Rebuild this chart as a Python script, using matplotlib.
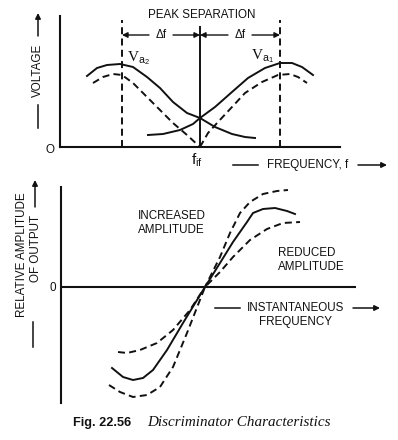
import matplotlib
matplotlib.use("Agg")
import matplotlib.pyplot as plt
from matplotlib import font_manager

# ---------------- data ----------------
# Top panel: frequency (arbitrary units) vs voltage (arbitrary units)
va2_freq = [1.35, 1.85, 2.35, 3.0, 3.65, 4.35, 5.0, 5.65, 6.35, 7.0, 7.75, 8.6, 9.25, 9.75]
va2_volt = [0.71, 0.79, 0.82, 0.83, 0.80, 0.70, 0.59, 0.45, 0.34, 0.29, 0.20, 0.13, 0.10, 0.09]
va1_freq = [4.4, 5.15, 6.0, 6.65, 7.0, 7.75, 8.6, 9.4, 10.25, 11.0, 11.6, 12.1, 12.65]
va1_volt = [0.12, 0.13, 0.17, 0.23, 0.29, 0.40, 0.55, 0.69, 0.79, 0.84, 0.84, 0.80, 0.72]
diff_left_freq = [1.65, 2.15, 2.65, 3.1, 3.65, 4.35, 5.0, 5.65, 6.35, 7.0]
diff_left_volt = [0.64, 0.70, 0.73, 0.72, 0.64, 0.50, 0.37, 0.24, 0.12, 0.0]
diff_right_freq = [7.0, 7.4, 7.9, 8.6, 9.25, 10.1, 10.9, 11.5, 11.9, 12.35]
diff_right_volt = [0.0, 0.14, 0.25, 0.40, 0.54, 0.65, 0.72, 0.73, 0.70, 0.64]
f_a2, f_if, f_a1 = 3.1, 7.0, 11.0

# Bottom panel: instantaneous frequency offset vs relative output
normal_x = [-4.65, -4.1, -3.6, -3.1, -2.6, -1.9, -1.1, 0.0, 0.75, 1.4, 2.1, 2.4, 2.9, 3.5, 4.1, 4.5]
normal_y = [-0.81, -0.90, -0.93, -0.91, -0.83, -0.63, -0.36, 0.0, 0.24, 0.45, 0.65, 0.74, 0.78, 0.79, 0.76, 0.73]
upper_x = [-4.35, -3.9, -3.25, -2.4, -1.6, -0.75, 0.0, 0.75, 1.25, 1.75, 2.25, 2.9, 3.6, 4.15]
upper_y = [-0.65, -0.66, -0.63, -0.56, -0.43, -0.23, 0.0, 0.30, 0.54, 0.74, 0.85, 0.93, 0.96, 0.97]
lower_x = [-4.8, -4.25, -3.6, -2.9, -2.25, -1.6, -0.9, 0.0, 0.75, 1.4, 2.25, 3.1, 3.9, 4.75]
lower_y = [-0.98, -1.05, -1.10, -1.08, -1.00, -0.80, -0.46, 0.0, 0.15, 0.30, 0.47, 0.58, 0.64, 0.65]

# ---------------- styling ----------------
names = {f.name for f in font_manager.fontManager.ttflist}
SANS = "Liberation Sans Narrow" if "Liberation Sans Narrow" in names else "Liberation Sans"
FS = 9.8 if SANS == "Liberation Sans Narrow" else 8.4
SERIF = ["Liberation Serif", "DejaVu Serif"]
plt.rcParams["font.family"] = [SANS, "DejaVu Sans"]
plt.rcParams["mathtext.fontset"] = "custom"
plt.rcParams["mathtext.rm"] = "Liberation Sans"
plt.rcParams["mathtext.it"] = "Liberation Serif"

W, H = 398, 440
fig = plt.figure(figsize=(W / 100, H / 100), dpi=100)
fig.patch.set_facecolor("white")
LW = 1.4
DASH = (0, (3.6, 2.2))
K = "#111111"

# ---------------- top axes ----------------
ax1 = fig.add_axes([60 / W, 1 - 147 / H, 280 / W, (147 - 16) / H])
ax1.set_xlim(0, 14)
ax1.set_ylim(0, 1.31)
for s in ("top", "right"):
    ax1.spines[s].set_visible(False)
for s in ("left", "bottom"):
    ax1.spines[s].set_linewidth(1.5)
    ax1.spines[s].set_color(K)
ax1.set_xticks([])
ax1.set_yticks([])
ax1.patch.set_alpha(0)

ax1.plot(va2_freq, va2_volt, color=K, lw=LW, solid_joinstyle="round")
ax1.plot(va1_freq, va1_volt, color=K, lw=LW, solid_joinstyle="round")
ax1.plot(diff_left_freq, diff_left_volt, color=K, lw=LW, ls=DASH)
ax1.plot(diff_right_freq, diff_right_volt, color=K, lw=LW, ls=DASH)
ax1.plot([f_a2, f_a2], [0, 1.27], color=K, lw=LW, ls=DASH)
ax1.plot([f_a1, f_a1], [0, 1.27], color=K, lw=LW, ls=DASH)
ax1.plot([f_if, f_if], [0, 1.2], color=K, lw=LW)

ya = 1.12
for a, b in ((f_a2, f_if), (f_if, f_a1)):
    mid = (a + b) / 2
    ax1.annotate("", xy=(a, ya), xytext=(mid - 0.6, ya),
                 arrowprops=dict(arrowstyle="-|>", color=K, lw=1.0, mutation_scale=8,
                                 shrinkA=0, shrinkB=0))
    ax1.annotate("", xy=(b, ya), xytext=(mid + 0.6, ya),
                 arrowprops=dict(arrowstyle="-|>", color=K, lw=1.0, mutation_scale=8,
                                 shrinkA=0, shrinkB=0))
    ax1.text(mid, ya, "Δf", ha="center", va="center", fontsize=FS, color=K)

# ---------------- bottom axes ----------------
ax2 = fig.add_axes([61 / W, 1 - 403 / H, 295 / W, (403 - 187) / H])
ax2.set_xlim(-7.2, 7.55)
ax2.set_ylim(-1.16, 1.0)
for s in ("top", "right", "bottom"):
    ax2.spines[s].set_visible(False)
ax2.spines["left"].set_linewidth(1.5)
ax2.spines["left"].set_color(K)
ax2.set_xticks([])
ax2.set_yticks([])
ax2.patch.set_alpha(0)
ax2.axhline(0, color=K, lw=1.5)

ax2.plot(normal_x, normal_y, color=K, lw=LW, solid_joinstyle="round")
ax2.plot(upper_x, upper_y, color=K, lw=LW, ls=DASH)
ax2.plot(lower_x, lower_y, color=K, lw=LW, ls=DASH)

# ---------------- overlay for labels ----------------
ov = fig.add_axes([0, 0, 1, 1])
ov.set_xlim(0, W)
ov.set_ylim(H, 0)
ov.axis("off")
ov.patch.set_alpha(0)


def arrow(x0, y0, x1, y1):
    ov.annotate("", xy=(x1, y1), xytext=(x0, y0),
                arrowprops=dict(arrowstyle="-|>", color=K, lw=1.1, mutation_scale=8,
                                shrinkA=0, shrinkB=0))


def seg(x0, y0, x1, y1):
    ov.plot([x0, x1], [y0, y1], color=K, lw=1.1)


ov.text(127, 58, r"$\mathit{V}_{\mathrm{a}_{\mathrm{2}}}$", ha="left", va="center",
        fontsize=11, color=K)
ov.text(251, 56, r"$\mathit{V}_{\mathrm{a}_{\mathrm{1}}}$", ha="left", va="center",
        fontsize=11, color=K)

ov.text(202, 15, "PEAK SEPARATION", ha="center", va="center", fontsize=FS, color=K)
ov.text(50, 150, "O", ha="center", va="center", fontsize=FS, color=K)
ov.text(197, 160, r"$\mathrm{f}_{\mathrm{if}}$", ha="center", va="center",
        fontsize=11, color=K)
seg(233, 165, 258, 165)
ov.text(267, 165, "FREQUENCY, f", ha="left", va="center", fontsize=FS, color=K)
arrow(358, 165, 387, 165)

ov.text(38, 70, "VOLTAGE", rotation=90, ha="center", va="center", fontsize=FS, color=K)
arrow(38, 36, 38, 13)
seg(38, 105, 38, 128)

ov.text(53, 288, "0", ha="center", va="center", fontsize=FS, color=K)
ov.text(22, 255, "RELATIVE AMPLITUDE", rotation=90, ha="center", va="center", fontsize=FS, color=K)
ov.text(36, 248, "OF OUTPUT", rotation=90, ha="center", va="center", fontsize=FS, color=K)
arrow(35, 207, 35, 180)
seg(33, 322, 33, 347)

ov.text(138, 223, "INCREASED\nAMPLITUDE", ha="left", va="center", fontsize=FS,
        color=K, linespacing=1.15)
ov.text(278, 260, "REDUCED\nAMPLITUDE", ha="left", va="center", fontsize=FS,
        color=K, linespacing=1.15)
seg(215, 308, 240, 308)
ov.text(247, 308, "INSTANTANEOUS", ha="left", va="center", fontsize=FS, color=K)
arrow(353, 308, 380, 308)
ov.text(296, 322, "FREQUENCY", ha="center", va="center", fontsize=FS, color=K)

ov.text(73, 423, "Fig. 22.56", ha="left", va="center", fontsize=FS + 0.8,
        fontweight="bold", color=K)
ov.text(147, 423, "Discriminator Characteristics", ha="left", va="center",
        fontsize=10.9, fontstyle="italic", family=SERIF, color=K)

fig.savefig("out.png", dpi=100, facecolor="white")
